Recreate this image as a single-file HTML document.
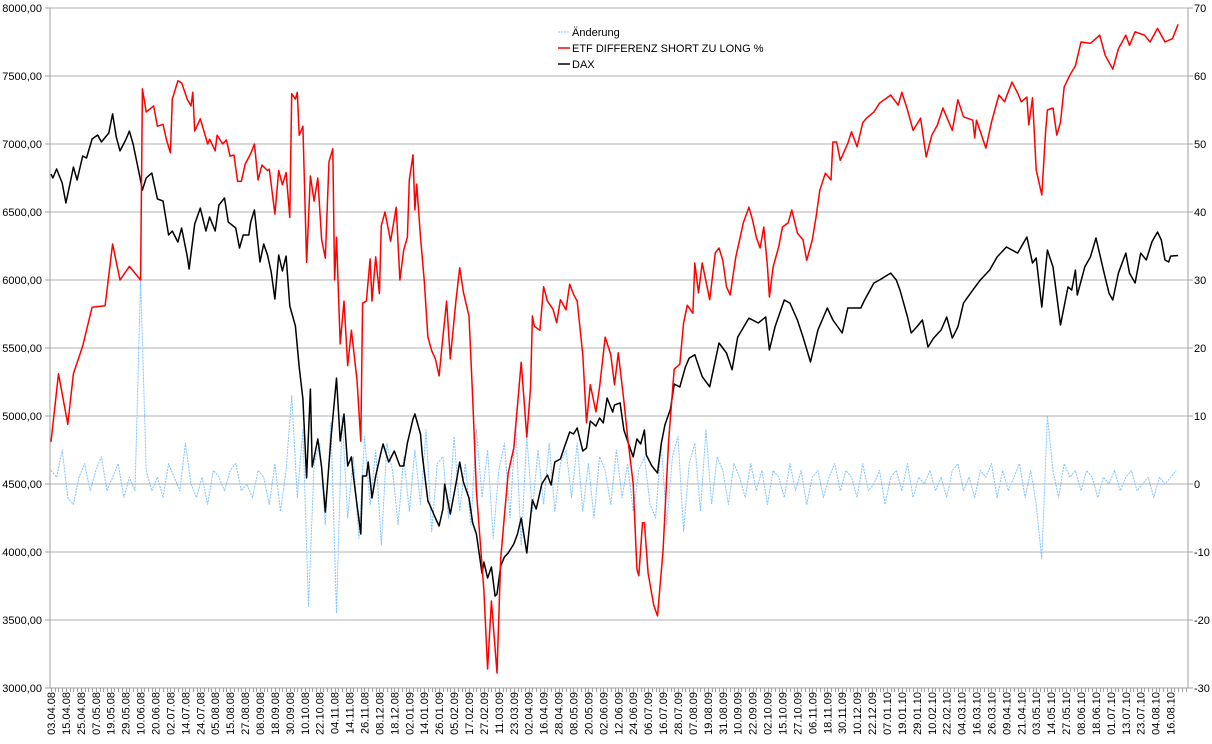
<!DOCTYPE html>
<html><head><meta charset="utf-8">
<style>
html,body{margin:0;padding:0;background:#fff;}
svg{display:block;font-family:"Liberation Sans",Arial,sans-serif;}
</style></head>
<body>
<svg id="chart" width="1212" height="744" viewBox="0 0 1212 744" xmlns="http://www.w3.org/2000/svg">
<g id="grid"></g>
<g id="axes"></g>
<g id="series"></g>
<g id="legend">
  <g>
    <line x1="558" y1="32" x2="570" y2="32" stroke="#7fc4ff" stroke-width="1" stroke-dasharray="2,1"/>
    <text x="572" y="36" font-size="11" fill="#000">Änderung</text>
  </g>
  <g>
    <line x1="558" y1="48" x2="570" y2="48" stroke="#ff0000" stroke-width="1.5"/>
    <text x="572" y="52" font-size="11" fill="#000">ETF DIFFERENZ SHORT ZU LONG %</text>
  </g>
  <g>
    <line x1="558" y1="64" x2="570" y2="64" stroke="#000" stroke-width="1.5"/>
    <text x="572" y="68" font-size="11" fill="#000">DAX</text>
  </g>
</g>
</svg>
<script>
// ---- data ----
const dateLabels = ["03.04.08","15.04.08","25.04.08","07.05.08","19.05.08","29.05.08","10.06.08","20.06.08","02.07.08","14.07.08","24.07.08","05.08.08","15.08.08","27.08.08","08.09.08","18.09.08","30.09.08","10.10.08","22.10.08","04.11.08","14.11.08","26.11.08","08.12.08","18.12.08","02.01.09","14.01.09","26.01.09","05.02.09","17.02.09","27.02.09","11.03.09","23.03.09","02.04.09","16.04.09","28.04.09","08.05.09","20.05.09","02.06.09","12.06.09","24.06.09","06.07.09","16.07.09","28.07.09","07.08.09","19.08.09","31.08.09","10.09.09","22.09.09","02.10.09","15.10.09","27.10.09","06.11.09","18.11.09","30.11.09","10.12.09","22.12.09","07.01.10","19.01.10","29.01.10","10.02.10","22.02.10","04.03.10","16.03.10","26.03.10","09.04.10","21.04.10","03.05.10","14.05.10","27.05.10","08.06.10","18.06.10","01.07.10","13.07.10","23.07.10","04.08.10","16.08.10"];
const leftTicks = [3000,3500,4000,4500,5000,5500,6000,6500,7000,7500,8000];
const rightTicks = [-30,-20,-10,0,10,20,30,40,50,60,70];

const etfDays = [0,4,9,12,17,22,29,33,37,42,48,49,51,55,57,60,62,64,65,68,70,73,75,76,77,80,84,85,88,89,92,94,96,98,100,102,104,107,109,111,113,116,117,120,122,124,126,128,129,131,132,133,135,137,139,141,143,145,147,149,151,152,153,155,157,159,161,164,166,167,169,171,172,174,176,177,179,182,185,187,189,191,192,194,195,196,198,200,202,204,206,208,210,212,214,217,219,221,224,226,228,232,234,236,239,241,243,245,248,250,252,255,257,258,259,262,264,266,269,271,273,276,278,280,282,285,287,289,292,294,297,300,302,304,307,309,312,314,315,317,318,320,323,325,328,331,334,337,339,341,344,345,347,349,352,353,356,358,360,362,364,367,369,371,374,376,378,380,382,384,385,387,390,392,395,397,400,403,405,408,410,412,415,418,419,421,423,427,429,432,435,437,441,444,450,454,456,459,462,466,469,472,475,478,483,486,489,494,495,496,501,504,508,511,515,518,520,523,524,526,528,531,533,534,537,539,541,543,546,549,552,557,562,565,569,572,576,578,581,586,589,593,597,601,604];
const etfValues = [6.2,16.2,8.8,16.2,20.3,26,26.2,35.3,30,32,30,58.1,54.7,55.6,52.6,52.9,50.5,48.7,56.6,59.3,59,56.6,55.6,57.6,51.9,53.7,50,50.7,49,51.3,50,50.6,48.2,48.4,44.5,44.5,47,48.6,50,44.7,46.9,46.1,46.3,39.7,46.1,44,45.8,39.2,57.4,56.6,57.6,51.3,52.6,32.6,45.3,41.6,45,36,33.2,47.4,49.3,30,36.3,20.6,26.9,17.4,22.6,15.3,6.3,26.6,26.9,33.1,26.9,33.4,28,38,40,35.7,40.7,30,34.4,36.3,44.7,48.4,40.3,44.1,36.3,30,21.6,19.6,18.4,15.9,21.6,26.9,18.4,26.9,31.8,28.2,24.7,12.6,-1,-15.7,-27.2,-17.2,-27.8,-11,-4.7,1.6,5.3,11.6,17.9,6.9,14.3,24.7,23.2,22.6,29,26.9,25.7,23.7,27.1,25.6,29.4,27.9,26.9,19,9,14.6,10.6,14.3,21.6,19,14.6,19.3,12.2,6.9,0,-12.5,-13.5,-5.7,-5.7,-13.1,-17.8,-19.4,-9.9,6.3,16.9,17.6,23.7,26.3,25.1,32.5,28.1,32.5,28.5,27.1,34,34.7,32.9,29,27.8,33.4,35.9,38.4,40.7,38.8,36.3,34.7,37.8,31.9,27.5,31.9,34.9,37.8,38.4,40.3,36.9,35.9,32.9,35.9,39.3,43.2,45.7,44.7,50.3,50.3,47.6,50.1,51.8,49.6,53.1,53.8,54.7,56,57.2,55.7,57.6,55,52,53.8,48.1,51.3,52.8,55.3,52,56.5,54,53.5,50.9,53.5,49.4,53.2,57.2,56.2,59.1,57.5,56.2,56.9,52.8,56.8,46.2,42.5,51.8,55,55.3,51.3,53.2,58.4,60.1,61.5,65,64.8,66,63,61,64,66,64.5,66.5,66,65,67,65,65.5,67.6];

const daxDays = [0,1,3,6,8,10,12,14,17,19,22,25,27,31,33,35,37,40,42,44,47,49,51,54,57,60,63,65,68,70,73,74,77,80,83,85,88,90,93,95,99,101,103,106,107,109,112,114,116,118,120,122,124,126,128,131,133,135,137,139,140,143,145,147,150,153,155,157,159,161,162,164,166,167,169,170,172,174,177,178,181,184,187,189,191,194,195,198,199,202,203,206,208,210,211,214,217,219,221,224,226,228,231,232,234,236,238,239,241,243,245,248,250,252,255,256,258,260,263,266,268,270,273,275,278,280,282,285,287,289,292,294,296,298,301,302,305,307,309,312,314,316,318,319,322,325,327,329,332,334,337,340,342,345,349,353,358,362,365,368,374,379,383,385,388,393,396,400,403,407,411,416,419,424,427,430,434,436,441,444,450,453,455,459,461,464,467,470,473,477,480,483,486,489,494,498,503,507,512,518,523,526,528,531,534,537,541,545,547,549,550,554,557,560,564,567,569,572,576,578,581,584,587,590,593,595,597,599,600,604];
const daxValues = [6779,6750,6816,6713,6566,6698,6830,6735,6912,6897,7037,7066,7015,7081,7221,7051,6949,7029,7095,7000,6801,6662,6750,6787,6596,6581,6331,6360,6279,6382,6176,6081,6412,6529,6360,6463,6360,6551,6603,6426,6382,6235,6331,6331,6426,6515,6132,6265,6184,6059,5860,6184,6066,6176,5809,5662,5360,5125,4544,5198,4625,4831,4625,4294,4831,5279,4816,5015,4632,4699,4566,4346,4132,4559,4559,4662,4397,4559,4743,4794,4662,4743,4632,4632,4801,4978,5015,4868,4713,4375,4346,4250,4191,4316,4500,4279,4500,4662,4515,4397,4213,4132,3845,3926,3809,3890,3676,3691,3897,3963,3993,4059,4132,4250,3993,4132,4382,4316,4500,4566,4493,4662,4684,4765,4882,4868,4912,4743,4765,4963,4926,4985,4949,5132,5029,5081,5096,4897,4816,4699,4831,4794,4897,4713,4632,4581,4794,4934,5052,5235,5213,5360,5426,5450,5290,5215,5537,5463,5340,5580,5720,5684,5728,5485,5655,5853,5830,5706,5581,5397,5632,5794,5706,5610,5794,5794,5794,5853,5978,6000,6051,6000,5926,5728,5610,5655,5706,5507,5573,5632,5728,5573,5655,5830,5926,6000,6073,6169,6243,6198,6316,6125,6162,5801,6220,6096,5669,5949,5926,6073,5890,6096,6169,6309,6073,5904,5853,6051,6198,6051,5978,6198,6147,6280,6353,6294,6147,6132,6176,6180];

const changeStep = 3;
const changeValues = [2,1,5,-2,-3,1,3,-1,2,4,
-1,1,3,-2,1,-1,30,2,-1,1,
-2,3,1,-1,6,0,-2,1,-3,2,
1,-1,2,3,-1,0,-2,2,1,-3,
3,-4,2,13,-2,8,-18,3,6,-6,
9,-19,10,-5,4,-8,7,-3,5,-9,
6,2,-6,4,-4,5,-3,8,-7,3,
4,-5,7,-4,3,-6,8,-2,5,-8,
2,6,-5,9,-9,7,-4,5,-3,6,
-4,3,5,-2,6,-4,3,-5,4,2,
-3,5,-2,3,-4,2,4,-3,-5,6,
-6,4,7,-7,3,6,-4,8,-3,4,
2,-3,3,1,-2,3,-1,2,-3,2,
1,-2,3,-1,2,-3,1,2,-2,1,
3,-1,2,1,-2,3,-1,0,2,-3,
1,2,-1,3,-2,1,0,2,-1,1,
-2,2,3,-1,1,-2,2,1,3,-2,
2,-1,1,3,-2,2,-3,-11,10,2,
-2,3,1,2,-1,2,1,-2,1,0,
2,-1,1,2,-1,0,1,-2,1,0,
1,2];

// ---- scales ----
const PL=50, PR=1188, PT=8, PB=688;
const X0=51, DX=1.866;
function xs(d){return X0+d*DX;}
function yL(v){return PB-(v-3000)/5000*(PB-PT);}
function yR(v){return PB-(v+30)/100*(PB-PT);}
const NS="http://www.w3.org/2000/svg";
function mk(tag,parent){const e=document.createElementNS(NS,tag);parent.appendChild(e);return e;}

const grid=document.getElementById('grid');
const axes=document.getElementById('axes');
const series=document.getElementById('series');

leftTicks.forEach((t,i)=>{
  const y=yL(t);
  const g=mk('line',grid);
  
  
  g.setAttribute('x1',PL);g.setAttribute('x2',PR);g.setAttribute('y1',y);g.setAttribute('y2',y);
  g.setAttribute('stroke','#b0b0b0');g.setAttribute('stroke-width','1');
  const tk=mk('line',axes);
  
  
  tk.setAttribute('x1',PL-5);tk.setAttribute('x2',PL);tk.setAttribute('y1',y);tk.setAttribute('y2',y);
  tk.setAttribute('stroke','#a0a0a0');
  const tx=mk('text',axes);
  
  
  tx.setAttribute('x',42);tx.setAttribute('y',y+4);tx.setAttribute('text-anchor','end');
  tx.setAttribute('font-size','11');
  tx.textContent=t.toFixed(2).replace('.',',');
});
rightTicks.forEach(t=>{
  const y=yR(t);
  const tk=mk('line',axes);
  
  
  tk.setAttribute('x1',PR);tk.setAttribute('x2',PR+5);tk.setAttribute('y1',y);tk.setAttribute('y2',y);
  tk.setAttribute('stroke','#a0a0a0');
  const tx=mk('text',axes);
  
  
  tx.setAttribute('x',PR+6);tx.setAttribute('y',y+4);
  tx.setAttribute('font-size','11');
  tx.textContent=String(t);
});
// axis lines
[[PL,PT,PL,PB],[PR,PT,PR,PB],[PL,PB,PR,PB]].forEach((c,i)=>{
  const l=mk('line',axes);
  
  
  l.setAttribute('x1',c[0]);l.setAttribute('y1',c[1]);l.setAttribute('x2',c[2]);l.setAttribute('y2',c[3]);
  l.setAttribute('stroke','#a0a0a0');l.setAttribute('stroke-width','1');
});
// minor ticks
for(let d=0; xs(d)<PR; d+=2){
  const l=mk('line',axes);
  
  
  const x=Math.round(xs(d))+0.5;
  l.setAttribute('x1',x);l.setAttribute('x2',x);l.setAttribute('y1',PB);l.setAttribute('y2',PB+4);
  l.setAttribute('stroke','#a0a0a0');
}
// date labels
dateLabels.forEach((lab,i)=>{
  const x=xs(i*8);
  const t=mk('text',axes);
  
  
  t.setAttribute('transform','translate('+(x+4)+',692) rotate(-90)');
  t.setAttribute('text-anchor','end');
  t.setAttribute('font-size','11');
  t.textContent=lab;
});

function poly(days,vals,yf,color,w,dash,name){
  const p=mk('polyline',series);
  
  
  p.setAttribute('points',vals.map((v,i)=>xs(days[i]).toFixed(1)+','+yf(v).toFixed(1)).join(' '));
  p.setAttribute('fill','none');p.setAttribute('stroke',color);p.setAttribute('stroke-width',w);
  p.setAttribute('stroke-linejoin','round');
  if(dash)p.setAttribute('stroke-dasharray',dash);
}
const changeDays = changeValues.map((v,i)=>i*changeStep);
poly(changeDays,changeValues,yR,'#7fc4ff',1,'2,1','aenderung-line');
poly(daxDays,daxValues,yL,'#000000',1.5,null,'dax-line');
poly(etfDays,etfValues,yR,'#ff0000',1.5,null,'etf-line');
</script>
</body></html>
